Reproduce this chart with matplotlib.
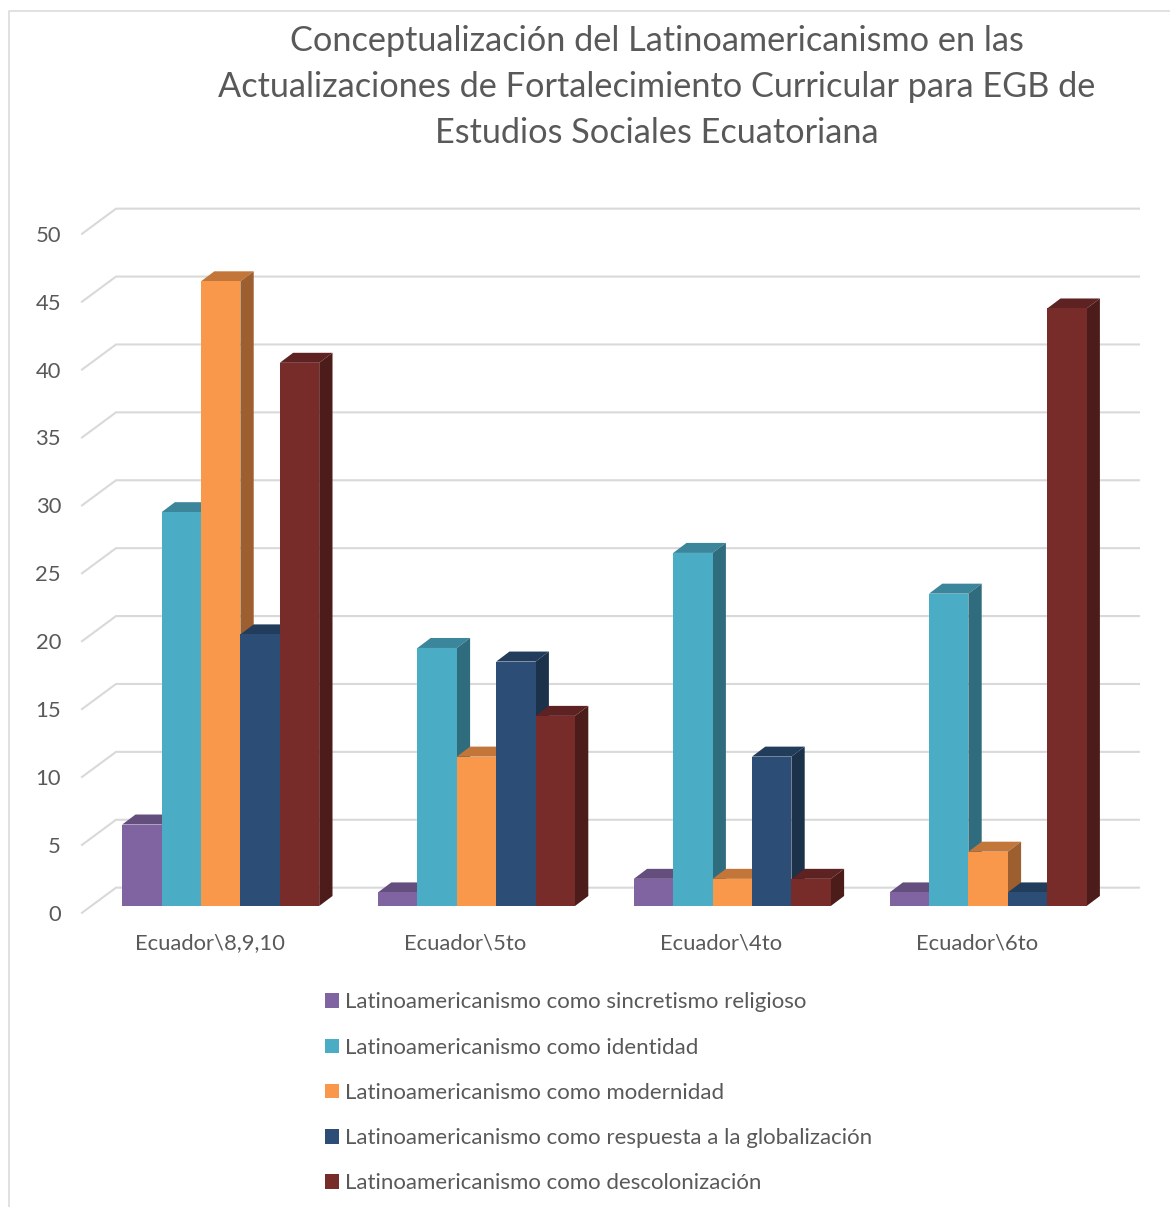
import numpy as np
import matplotlib
matplotlib.use("Agg")
import matplotlib.pyplot as plt
from matplotlib.colors import to_rgb
from matplotlib.lines import Line2D
from matplotlib.patches import Patch, Polygon

plt.rcParams["font.family"] = ["Lato", "DejaVu Sans"]

title = ("Conceptualización del Latinoamericanismo en las\n"
         "Actualizaciones de Fortalecimiento Curricular para EGB de\n"
         "Estudios Sociales Ecuatoriana")

categories = ["Ecuador\\8,9,10", "Ecuador\\5to", "Ecuador\\4to", "Ecuador\\6to"]
series_names = [
    "Latinoamericanismo como sincretismo religioso",
    "Latinoamericanismo como identidad",
    "Latinoamericanismo como modernidad",
    "Latinoamericanismo como respuesta a la globalización",
    "Latinoamericanismo como descolonización",
]
sincretismo = [6, 1, 2, 1]
identidad = [29, 19, 26, 23]
modernidad = [46, 11, 2, 4]
globalizacion = [20, 18, 11, 1]
descolonizacion = [40, 14, 2, 44]
y_ticks = [0, 5, 10, 15, 20, 25, 30, 35, 40, 45, 50]

colors = ["#8064A2", "#4BACC6", "#F9974A", "#2C4D75", "#772C2A"]
text_color = "#595959"
grid_color = "#D9D9D9"

W, H = 1170, 1207
PX_X = 255.8      # pixels per category
PX_Y = 13.58      # pixels per value unit
X0 = 220.7        # pixel of first category centre
Y0 = 906.0        # pixel of value 0, bar front


def shade(color, factor):
    return tuple(c * factor for c in to_rgb(color))


def draw_bar(ax, left, width, value, color):
    # front face plus top and side faces pushed back by the bar depth
    dx = 13.3 / PX_X
    dy = 10.0 / PX_Y
    right = left + width
    top_face = [(left, value), (right, value), (right + dx, value + dy), (left + dx, value + dy)]
    side_face = [(right, 0), (right + dx, dy), (right + dx, value + dy), (right, value)]
    ax.add_patch(Polygon(top_face, facecolor=shade(color, 0.78), edgecolor="none", zorder=3))
    ax.add_patch(Polygon(side_face, facecolor=shade(color, 0.63), edgecolor="none", zorder=3))
    ax.bar(left, value, width, align="edge", color=color, zorder=3)


fig = plt.figure(figsize=(W / 100, H / 100), dpi=100)
ax = fig.add_axes([0, 0, 1, 1])
ax.set_xlim(-X0 / PX_X, (W - X0) / PX_X)
ax.set_ylim((Y0 - H) / PX_Y, Y0 / PX_Y)
ax.axis("off")

# outer chart frame
fig.add_artist(Line2D([9 / W, 9 / W, 1], [0, 1 - 10.5 / H, 1 - 10.5 / H],
                      color=grid_color, lw=1.1))

# wall gridlines
x_front = (82 - X0) / PX_X
x_back = (116 - X0) / PX_X
x_end = (1139 - X0) / PX_X
for v in y_ticks:
    ax.plot([x_front, x_back, x_end], [v - 0.5, v + 1.35, v + 1.35],
            color=grid_color, lw=1.5, zorder=1, solid_joinstyle="miter")
    ax.text((61 - X0) / PX_X, v - 0.5, str(v), ha="right", va="center_baseline",
            color=text_color, fontsize=15.8)

all_series = [sincretismo, identidad, modernidad, globalizacion, descolonizacion]
bar_width = 39.4 / PX_X
for i, name in enumerate(categories):
    for j, values in enumerate(all_series):
        draw_bar(ax, i + (j - 2.5) * bar_width, bar_width, values[i], colors[j])
    ax.text(i - 11 / PX_X, (Y0 - 941.5) / PX_Y, name, ha="center", va="center_baseline",
            color=text_color, fontsize=15.8)

fig.text(657 / W, 1 - 87 / H, title, ha="center", va="center", linespacing=1.52,
         color=text_color, fontsize=24.7)

handles = [Patch(facecolor=c, edgecolor="none") for c in colors]
fig.legend(handles, series_names, loc="upper left",
           bbox_to_anchor=(325 / W, 1 - 992.5 / H), frameon=False, fontsize=16.05,
           labelcolor=text_color, handlelength=0.63, handleheight=0.63,
           handletextpad=0.25, labelspacing=1.13, borderaxespad=0, borderpad=0)

fig.savefig("out.png", dpi=100)
